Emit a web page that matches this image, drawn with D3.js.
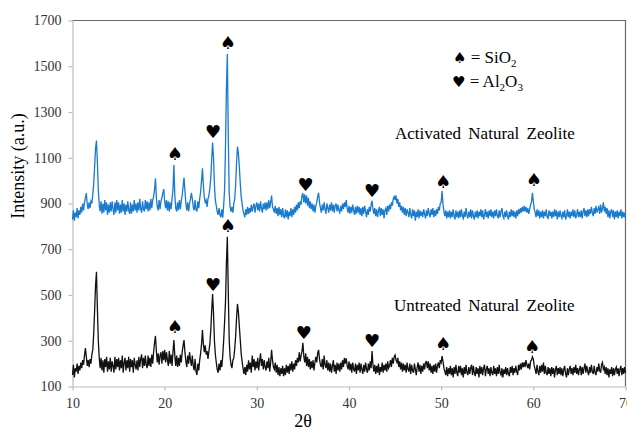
<!DOCTYPE html>
<html>
<head>
<meta charset="utf-8">
<script src="https://cdn.jsdelivr.net/npm/d3@7"></script>
<style>
  body { margin: 0; background: #fff; }
  svg text { font-family: "Liberation Serif", "Times New Roman", Times, "DejaVu Serif", serif; }
</style>
</head>
<body>
<div id="chart"></div>
<script>
"use strict";

// 2theta runs from 10 to 70 in 0.1 steps
var thetaStart = 10;
var thetaStep = 0.1;

var yTicks = [100, 300, 500, 700, 900, 1100, 1300, 1500, 1700];
var xTicks = [10, 20, 30, 40, 50, 60, 70];

var untreated = [
    150,195,140,180,165,200,155,190,170,205,
    180,215,195,235,268,230,190,215,185,220,
    200,240,260,330,430,540,602,440,300,225,
    180,225,170,215,160,220,185,230,165,210,
    175,225,165,210,190,160,230,175,220,185,
    225,170,215,180,235,160,205,225,170,215,
    180,230,165,220,185,215,160,225,195,175,
    215,170,230,185,220,240,180,225,190,235,
    195,180,235,190,225,185,240,200,250,290,
    321,255,205,245,195,235,250,200,255,215,
    260,205,250,215,190,255,200,240,190,250,
    303,235,190,235,185,225,190,240,205,250,
    280,303,250,210,185,235,200,250,215,190,
    235,190,170,220,165,150,200,170,215,245,
    285,347,285,250,280,240,255,220,255,285,
    345,430,504,420,300,240,205,175,160,200,
    170,215,185,235,300,380,470,640,755,520,
    305,230,195,180,215,225,265,320,400,461,
    425,365,305,245,210,180,155,185,150,195,
    165,215,175,205,160,235,185,220,170,210,
    180,225,170,210,245,190,220,175,215,185,
    170,210,180,225,165,205,260,215,185,175,
    205,160,195,150,185,145,180,155,190,145,
    180,150,195,160,190,155,200,170,210,165,
    200,175,215,190,225,205,250,210,235,255,
    291,230,205,245,190,230,185,220,175,210,
    180,215,170,205,230,205,245,260,220,195,
    185,220,175,235,195,180,215,170,205,165,
    200,160,190,215,165,195,155,205,170,200,
    165,205,175,215,185,225,200,223,190,175,
    210,170,200,160,205,175,165,200,155,195,
    170,205,160,200,175,155,195,165,205,175,
    160,200,170,210,180,255,195,165,195,155,
    190,160,200,150,185,165,205,160,195,170,
    200,165,210,180,190,215,185,225,200,230,
    238,215,205,225,185,210,175,205,165,200,
    170,195,160,205,175,165,200,155,195,170,
    160,200,175,150,185,205,165,195,155,190,
    165,200,175,205,208,180,210,170,200,160,
    190,155,195,165,200,160,190,205,180,215,
    205,233,210,180,165,150,185,145,180,155,
    190,150,180,140,185,155,195,160,145,190,
    160,190,150,180,140,185,155,195,160,150,
    185,155,180,195,150,190,160,145,185,155,
    180,140,190,155,185,150,180,195,145,175,
    190,155,180,145,185,160,150,190,155,180,
    145,185,155,195,160,150,180,140,175,155,
    185,150,180,155,145,185,160,190,150,180,
    160,190,165,150,195,170,200,175,205,185,
    205,185,215,195,180,200,175,210,215,230,
    220,190,175,155,195,165,150,190,160,195,
    165,205,155,190,160,150,185,155,180,145,
    185,155,180,140,175,190,150,180,155,185,
    150,180,145,175,190,155,140,180,150,175,
    190,155,180,150,185,160,195,155,180,150,
    175,190,150,185,155,180,200,160,190,165,
    150,185,160,195,165,155,190,160,150,185,
    165,200,170,160,195,205,175,185,155,185,
    150,180,140,175,155,185,145,180,150,175,
    185,155,180,145,175,190,150,180,155,185,
    160
];

var activated = [
    830,870,825,860,840,880,835,870,850,885,
    860,900,870,905,925,945,895,875,905,880,
    910,900,940,985,1060,1140,1175,1080,960,895,
    865,910,855,900,860,915,870,905,850,895,
    860,905,865,910,875,850,905,860,915,870,
    905,855,895,860,915,865,900,850,895,865,
    910,870,855,905,855,895,865,915,870,900,
    860,905,870,920,875,860,910,875,865,915,
    875,910,865,905,870,920,880,915,930,960,
    1010,925,885,870,915,875,910,925,945,963,
    910,880,915,870,910,865,905,875,920,960,
    1068,935,880,865,905,870,915,875,910,935,
    975,1013,955,900,870,905,865,900,920,947,
    920,885,870,915,875,865,910,880,920,950,
    1000,1054,980,925,905,915,885,920,935,965,
    1010,1090,1166,1100,980,915,890,865,850,880,
    850,840,875,838,890,960,1150,1400,1554,1200,
    950,885,865,885,860,900,920,980,1080,1149,
    1120,1060,990,930,900,870,855,840,875,850,
    885,855,880,860,895,865,885,900,860,890,
    905,870,900,865,910,880,860,900,875,905,
    870,905,875,915,880,905,935,885,875,860,
    890,855,880,845,885,850,875,840,880,845,
    835,875,840,870,830,865,845,880,840,875,
    850,885,860,895,870,905,880,910,895,935,
    945,905,940,900,935,890,925,880,910,875,
    900,865,895,860,890,905,930,947,905,880,
    860,895,870,905,875,855,900,880,860,895,
    870,905,865,895,860,890,900,865,895,870,
    860,890,865,900,875,905,885,915,880,860,
    890,855,885,860,895,870,850,885,855,890,
    860,885,850,880,845,885,855,890,865,840,
    875,850,885,865,895,912,875,855,880,845,
    875,840,870,885,845,880,850,875,835,870,
    880,850,890,865,895,875,905,890,920,930,
    915,935,900,920,885,905,870,890,860,885,
    850,880,845,875,860,840,880,850,835,875,
    845,870,825,865,840,875,835,870,845,865,
    840,875,855,835,870,845,880,855,840,875,
    850,880,840,870,845,875,855,885,870,900,
    905,955,895,865,845,870,835,865,840,870,
    835,865,840,875,845,830,870,840,865,835,
    870,840,875,845,835,865,840,880,850,835,
    865,840,875,835,870,845,830,865,840,870,
    835,865,845,875,840,870,830,850,875,840,
    865,835,870,845,875,840,865,835,870,845,
    875,845,835,870,840,865,880,845,835,865,
    840,870,845,830,865,840,875,845,870,840,
    865,835,870,845,875,855,880,860,885,865,
    890,865,885,860,880,855,875,895,905,947,
    910,875,860,840,875,845,870,835,865,840,
    870,835,865,845,875,840,835,870,845,865,
    835,865,840,875,845,870,830,865,840,870,
    845,835,865,840,870,830,845,875,840,865,
    835,865,845,875,840,870,835,850,875,840,
    865,840,870,835,865,880,845,870,840,875,
    845,875,855,885,860,845,880,855,890,860,
    875,885,855,895,860,880,905,865,885,855,
    880,840,870,835,865,875,840,870,830,865,
    840,870,835,865,845,875,835,865,840,860,
    835
];

// phase markers: 2theta, intensity where the symbol sits, symbol
var spade = "\u2660", heart = "\u2665";
var markTheta = [21.1, 25.25, 26.85, 35.3, 42.5, 50.2, 60.05,
                 21.1, 25.25, 26.85, 35.1, 42.5, 50.2, 59.85];
var markIntensity = [1117, 1213, 1606, 983, 956, 998, 1003,
                     361, 548, 806, 335, 303, 286, 277];
var markSymbol = [spade, heart, spade, heart, heart, spade, spade,
                  spade, heart, spade, heart, heart, spade, spade];

var width = 627, height = 430;
var serif = "'Liberation Serif', 'Times New Roman', Times, 'DejaVu Serif', serif";

var svg = d3.select("#chart")
    .append("svg")
    .attr("width", width)
    .attr("height", height);

var x = d3.scaleLinear().domain([10, 70]).range([72.5, 625.5]);
var y = d3.scaleLinear().domain([100, 1700]).range([386.5, 20.5]);

// frame top and right
svg.append("path")
    .attr("d", "M" + x(10) + "," + y(1700) + "H" + x(70) + "V" + y(100))
    .attr("fill", "none")
    .attr("stroke", "#6a6a6a")
    .attr("stroke-width", 1.2);

var xAxis = svg.append("g")
    .attr("transform", "translate(0," + y(100) + ")")
    .call(d3.axisBottom(x).tickValues(xTicks).tickSize(4).tickSizeOuter(0).tickPadding(6));

var yAxis = svg.append("g")
    .attr("transform", "translate(" + x(10) + ",0)")
    .call(d3.axisLeft(y).tickValues(yTicks).tickFormat(d3.format("d"))
        .tickSize(4).tickSizeOuter(0).tickPadding(7));

[xAxis, yAxis].forEach(function (g) {
    g.attr("font-family", serif);
    g.selectAll("path, line").attr("stroke", "#bdbdbd").attr("stroke-width", 1.2);
    g.selectAll("text")
        .attr("fill", "#333")
        .attr("font-family", serif)
        .style("font-size", "14px");
});
xAxis.selectAll("text").attr("dy", "0.85em");

var line = d3.line()
    .x(function (d, i) { return x(thetaStart + i * thetaStep); })
    .y(function (d) { return y(d); });

svg.append("path")
    .datum(activated)
    .attr("d", line)
    .attr("fill", "none")
    .attr("stroke", "#1a7acb")
    .attr("stroke-width", 1.3);

svg.append("path")
    .datum(untreated)
    .attr("d", line)
    .attr("fill", "none")
    .attr("stroke", "#111")
    .attr("stroke-width", 1.3);

svg.selectAll("text.mark")
    .data(markTheta)
    .enter()
    .append("text")
    .attr("class", "mark")
    .attr("x", function (d) { return x(d); })
    .attr("y", function (d, i) { return y(markIntensity[i]); })
    .attr("text-anchor", "middle")
    .attr("dominant-baseline", "central")
    .style("font-family", "'DejaVu Sans', sans-serif")
    .style("font-size", "18px")
    .text(function (d, i) { return markSymbol[i]; });

// legend
var legend = svg.append("g").attr("font-family", serif).style("font-size", "17px");
var l1 = legend.append("text").attr("x", 453).attr("y", 63);
l1.append("tspan").style("font-family", "'DejaVu Sans', sans-serif").style("font-size", "15px").text(spade);
l1.append("tspan").text(" = SiO");
l1.append("tspan").attr("dy", 4).style("font-size", "11px").text("2");
var l2 = legend.append("text").attr("x", 452).attr("y", 87);
l2.append("tspan").style("font-family", "'DejaVu Sans', sans-serif").style("font-size", "15px").text(heart);
l2.append("tspan").text(" = Al");
l2.append("tspan").attr("dy", 4).style("font-size", "11px").text("2");
l2.append("tspan").attr("dy", -4).text("O");
l2.append("tspan").attr("dy", 4).style("font-size", "11px").text("3");

svg.append("text")
    .attr("x", 395).attr("y", 139)
    .attr("font-family", serif)
    .style("font-size", "17px")
    .style("word-spacing", "3px")
    .text("Activated Natural Zeolite");

svg.append("text")
    .attr("x", 394).attr("y", 311)
    .attr("font-family", serif)
    .style("font-size", "17px")
    .style("word-spacing", "3px")
    .text("Untreated Natural Zeolite");

// axis titles
svg.append("text")
    .attr("x", 303).attr("y", 427)
    .attr("text-anchor", "middle")
    .attr("font-family", serif)
    .style("font-size", "18px")
    .text("2\u03b8");

svg.append("text")
    .attr("transform", "translate(24,166) rotate(-90)")
    .attr("text-anchor", "middle")
    .attr("font-family", serif)
    .style("font-size", "18px")
    .text("Intensity (a.u.)");
</script>
</body>
</html>
